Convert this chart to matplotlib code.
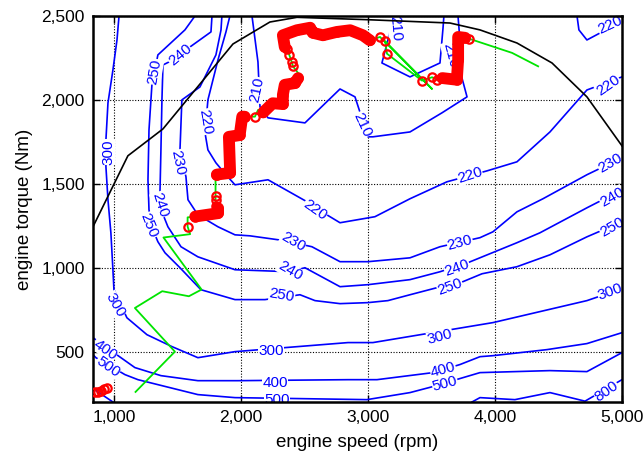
import matplotlib
matplotlib.use("Agg")
import matplotlib.pyplot as plt
from matplotlib.ticker import FuncFormatter

plt.rcParams['font.family'] = ['Liberation Sans', 'DejaVu Sans']

# ---------------- BSFC contour lines (g/kWh) ----------------
c210a_rpm = [2087, 2134, 2150, 2213, 2504, 2780, 2898, 3000, 3039, 3331, 3583, 3780, 3740, 3724, 3709]
c210a_nm  = [2500, 2226, 1958, 1893, 1863, 2065, 2018, 1780, 1780, 1809, 1923, 2018, 2131, 2357, 2500]
c210b_rpm = [3197, 3157, 3110, 3331, 3567, 3591, 3598]
c210b_nm  = [2500, 2357, 2220, 2137, 2220, 2428, 2500]
c220a_rpm = [1913, 1882, 1819, 1740, 1717, 1740, 1803, 1882, 1953, 2213, 2520, 2677, 2780, 3055, 3331,
             3622, 3937, 4173, 4433, 4724, 5000]
c220a_nm  = [2500, 2405, 2238, 2000, 1804, 1702, 1625, 1554, 1494, 1524, 1393, 1315, 1268, 1304, 1411,
             1512, 1577, 1631, 1809, 2059, 2137]
c220b_rpm = [4646, 4661, 4724, 4843, 5000]
c220b_nm  = [2500, 2417, 2357, 2405, 2464]
c230_rpm = [1850, 1843, 1803, 1677, 1535, 1520, 1567, 1583, 1661, 1819, 1953, 2071, 2346, 2559, 2780,
            3000, 3331, 3567, 3882, 3984, 4173, 4378, 4724, 5000]
c230_nm  = [2500, 2417, 2268, 2077, 2000, 1702, 1542, 1405, 1315, 1244, 1196, 1190, 1161, 1125, 1036,
            1036, 1059, 1125, 1179, 1214, 1333, 1411, 1554, 1655]
c240_rpm = [1772, 1764, 1598, 1465, 1386, 1378, 1370, 1362, 1378, 1425, 1528, 1661, 1953, 2386, 2504,
            2780, 3000, 3331, 3567, 3787, 4173, 4354, 4724, 5000]
c240_nm  = [2500, 2405, 2315, 2238, 2208, 2000, 1702, 1434, 1333, 1244, 1125, 1065, 988, 976, 1000,
            887, 899, 929, 976, 1030, 1149, 1208, 1357, 1464]
c250_rpm = [1638, 1559, 1346, 1299, 1276, 1268, 1276, 1307, 1346, 1402, 1520, 1685, 1953, 2189, 2465,
            2583, 2780, 3000, 3157, 3331, 3543, 3748, 3898, 4173, 4433, 4724, 5000]
c250_nm  = [2500, 2417, 2268, 2089, 1821, 1524, 1345, 1226, 1155, 1089, 1000, 869, 810, 810, 839,
            804, 786, 792, 804, 839, 881, 917, 964, 1006, 1077, 1184, 1274]
c300_rpm = [1040, 1024, 992, 953, 937, 937, 953, 976, 992, 1000, 1102, 1260, 1457, 1661, 1953, 2843,
            3039, 3984, 4724, 5000]
c300_nm  = [2500, 2357, 2178, 1982, 1762, 1601, 1405, 1208, 988, 869, 702, 601, 530, 464, 500, 554,
            554, 673, 804, 875]
c400_rpm = [835, 1055, 1165, 1370, 1661, 1976, 2843, 3071, 3512, 3724, 3882, 3984, 4409, 4724, 5000]
c400_nm  = [583, 464, 405, 357, 327, 327, 333, 333, 375, 423, 470, 476, 512, 548, 613]
c500_rpm = [835, 858, 1087, 1189, 1661, 1953, 2992, 3331, 3512, 3882, 4433, 4724, 5000]
c500_nm  = [482, 464, 363, 333, 244, 226, 214, 256, 292, 375, 387, 381, 494]
c800a_rpm = [835, 992]
c800a_nm  = [280, 200]
c800b_rpm = [3819, 3882, 4157, 4433, 4709, 5000]
c800b_nm  = [200, 226, 214, 256, 205, 333]

contours = [(c210a_rpm, c210a_nm), (c210b_rpm, c210b_nm), (c220a_rpm, c220a_nm),
            (c220b_rpm, c220b_nm), (c230_rpm, c230_nm), (c240_rpm, c240_nm),
            (c250_rpm, c250_nm), (c300_rpm, c300_nm), (c400_rpm, c400_nm),
            (c500_rpm, c500_nm), (c800a_rpm, c800a_nm), (c800b_rpm, c800b_nm)]

# contour labels
lab_text = ['300', '250', '240', '220', '230', '240', '250', '300', '400', '500',
            '210', '210', '210', '210', '220', '220', '220', '220',
            '230', '230', '230', '240', '240', '240', '250', '250', '250',
            '300', '300', '300', '400', '400', '500', '500', '800']
lab_rpm = [953, 1323, 1520, 1717, 1504, 1362, 1276, 1008, 929, 953,
           2126, 2953, 3213, 3646, 2583, 3803, 4890, 4906,
           2409, 3724, 4906, 2386, 3701, 4921, 2323, 3646, 4921,
           2236, 3567, 4906, 2268, 3591, 2283, 3606, 4882]
lab_nm = [1690, 2167, 2268, 1869, 1625, 1375, 1250, 780, 512, 411,
          2059, 1851, 2428, 2268, 1345, 1548, 2089, 2446,
          1155, 1149, 1625, 982, 1000, 1423, 833, 887, 1244,
          506, 589, 857, 315, 393, 214, 310, 262]
lab_rot = [90, 80, 40, -80, -78, -72, -68, -60, -35, -35,
           78, -65, -85, -75, -35, 18, 35, 25,
           -30, 15, 30, -30, 20, 30, -10, 20, 30,
           0, 15, 20, 0, 15, 0, 15, 35]

# full-load (maximum torque) curve
wot_rpm = [835, 1110, 1386, 1937, 2228, 2441, 2992, 3646, 3882, 4173, 4449, 4724, 5000]
wot_nm  = [1244, 1667, 1827, 2333, 2464, 2492, 2478, 2458, 2417, 2339, 2220, 2018, 1726]

# operating trajectory (green line), in time order
path_rpm = [1170, 1480, 1165, 1380, 1590, 1690, 1390, 1600, 1580, 1580,
            1640, 1820, 1820, 1800, 1800, 1800, 1800,
            1810, 1915, 1905, 1990, 2010, 2030, 2110, 2135, 2175,
            2175, 2250, 2330, 2330, 2345, 2425, 2450, 2450, 2410, 2400, 2380, 2360,
            2345, 2330, 2440, 2545, 2565, 2645, 2755, 2860, 2960, 3015,
            3095, 3505, 3135, 3150, 3425, 3505, 3545,
            3585, 3700, 3710, 3710, 3765, 3795, 4135, 4340]
path_nm = [260, 500, 760, 860, 830, 870, 1180, 1200, 1245, 1300,
           1305, 1325, 1355, 1365, 1405, 1425, 1550,
           1555, 1565, 1780, 1790, 1900, 1900, 1900, 1940, 1940,
           1925, 1980, 1975, 2030, 2090, 2100, 2130, 2160, 2200, 2225, 2270, 2305,
           2315, 2385, 2415, 2430, 2400, 2385, 2405, 2415, 2385, 2355,
           2375, 2065, 2350, 2275, 2115, 2135, 2120,
           2130, 2120, 2240, 2375, 2370, 2365, 2280, 2200]

# dense clusters of operating points (drawn as solid red bands)
band1_rpm = [1640, 1820, 1820]
band1_nm  = [1305, 1325, 1355]
band2_rpm = [1810, 1915, 1905, 1990, 2010, 2030]
band2_nm  = [1555, 1565, 1780, 1790, 1900, 1900]
band3_rpm = [2175, 2250, 2330, 2330, 2345, 2425, 2450]
band3_nm  = [1925, 1980, 1975, 2030, 2090, 2100, 2130]
band4_rpm = [2345, 2330, 2440, 2545, 2565, 2645, 2755, 2860, 2960, 3015]
band4_nm  = [2315, 2385, 2415, 2430, 2400, 2385, 2405, 2415, 2385, 2355]
band5_rpm = [3585, 3700, 3710, 3710, 3765]
band5_nm  = [2130, 2120, 2240, 2375, 2370]
bands = [(band1_rpm, band1_nm), (band2_rpm, band2_nm), (band3_rpm, band3_nm),
         (band4_rpm, band4_nm), (band5_rpm, band5_nm)]

# isolated operating points (red circles)
pts_rpm = [850, 875, 900, 920, 945, 1580, 1800, 1800, 1800, 1800, 2110,
           2410, 2400, 2380, 2360, 3095, 3135, 3150, 3425, 3505, 3545, 3795]
pts_nm = [258, 262, 268, 275, 285, 1245, 1365, 1405, 1425, 1550, 1900,
          2200, 2225, 2270, 2305, 2375, 2350, 2275, 2115, 2135, 2120, 2365]

xticks = [1000, 2000, 3000, 4000, 5000]
yticks = [500, 1000, 1500, 2000, 2500]

# ---------------- drawing ----------------
fig = plt.figure(figsize=(6.43, 4.59), dpi=100)
ax = fig.add_axes([0.1446, 0.1242, 0.8227, 0.8410])

for rpm, nm in contours:
    ax.plot(rpm, nm, color='#0000ff', lw=1.2, zorder=2)

for t, x, y, r in zip(lab_text, lab_rpm, lab_nm, lab_rot):
    ax.text(x, y, t, color='#0000ff', fontsize=11, rotation=r,
            rotation_mode='anchor', ha='center', va='center', zorder=2.5,
            clip_on=True,
            bbox=dict(boxstyle='square,pad=0.02', fc='white', ec='none'))

ax.plot(wot_rpm, wot_nm, color='black', lw=1.2, zorder=3)

ax.plot(path_rpm, path_nm, color='#00e400', lw=1.3, zorder=4)
for rpm, nm in bands:
    ax.plot(rpm, nm, color='red', lw=8.5, solid_joinstyle='round',
            solid_capstyle='round', zorder=5)
    ax.plot(rpm, nm, 'o', mfc='none', mec='red', ms=6, mew=1.6, zorder=5)
ax.plot(pts_rpm, pts_nm, 'o', mfc='none', mec='red', ms=6, mew=1.6, zorder=5)

ax.set_xlim(835, 5000)
ax.set_ylim(200, 2500)
ax.set_xticks(xticks)
ax.set_yticks(yticks)
fmt = FuncFormatter(lambda v, p: f'{int(v):,}')
ax.xaxis.set_major_formatter(fmt)
ax.yaxis.set_major_formatter(fmt)
ax.tick_params(direction='in', length=5, width=1, top=True, right=True,
               labelsize=12.5, pad=6)
ax.grid(True, color='black', linestyle=(0, (1, 1.5)), lw=0.8)
ax.set_axisbelow(True)
for s in ax.spines.values():
    s.set_linewidth(1.8)
ax.set_xlabel('engine speed (rpm)', fontsize=13.5, labelpad=6)
ax.set_ylabel('engine torque (Nm)', fontsize=13.5, labelpad=6)

fig.savefig('out.png', dpi=100)
